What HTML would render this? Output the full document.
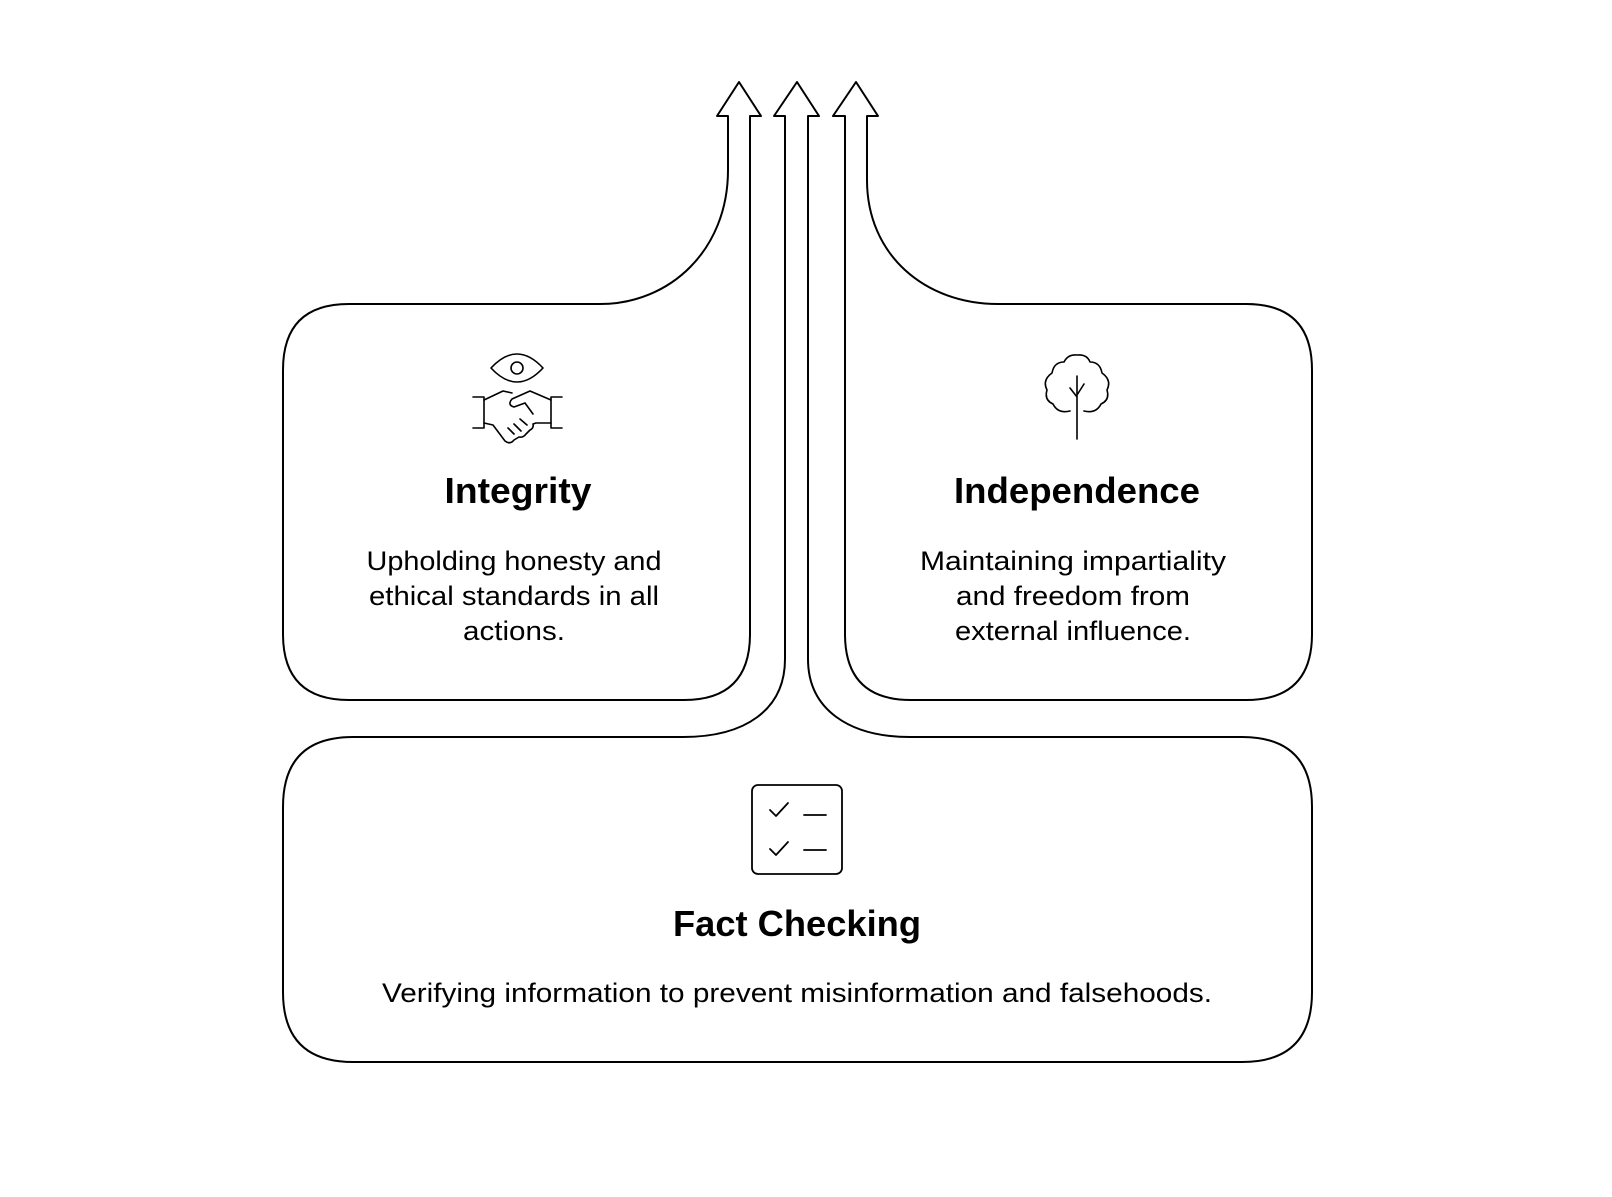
<!DOCTYPE html>
<html><head><meta charset="utf-8"><style>
html,body{margin:0;padding:0;background:#fff;}
svg{display:block;}
text{font-family:"Liberation Sans",Arial,sans-serif;fill:#000;}
.t{font-weight:bold;font-size:36px;}
.d{font-size:27px;}
</style></head><body>
<svg width="1612" height="1197" viewBox="0 0 1612 1197" xmlns="http://www.w3.org/2000/svg">
<g fill="none" stroke="#000" stroke-width="2" stroke-linejoin="round">
<path d="M728,116 L717,116 L739,82 L761,116 L750,116 L750,634 Q750,700 684,700 L349,700 Q283,700 283,634 L283,370 Q283,304 349,304 L600,304 C670,304 728,250 728,170 Z"/>
<path d="M785,116 L774,116 L797,82 L819,116 L808,116 L808,659 C808,710 850,737 910,737 L1242,737 Q1312,737 1312,807 L1312,992 Q1312,1062 1242,1062 L353,1062 Q283,1062 283,992 L283,807 Q283,737 353,737 L683,737 C745,737 785,710 785,659 Z"/>
<path d="M867,116 L878,116 L856,82 L833,116 L845,116 L845,634 Q845,700 911,700 L1246,700 Q1312,700 1312,634 L1312,370 Q1312,304 1246,304 L998,304 C925,304 867,255 867,180 Z"/>
</g>
<g fill="none" stroke="#000" stroke-width="1.6" stroke-linecap="round" stroke-linejoin="round">
<path d="M491,368 Q517,340 543,368 Q517,396 491,368 Z"/>
<circle cx="517" cy="368" r="6"/>
<path d="M473,397 L484,397 L484,428 L473,428"/>
<path d="M562,397 L551,397 L551,428 L562,428"/>
<path d="M484,400 L503,391 L512,393"/>
<path d="M551,400 L530,391 L512,399 Q507,405 514,407 L525,403 L533,414"/>
<path d="M484,423 L493,425 L505,441 Q510,445 514,440 L519,437 Q523,438 526,434 L530,430 Q534,428 533,424 L536,423 L551,423"/>
<path d="M508,428 L514,434 M514,424 L521,431 M520,419 L527,425"/>
</g>
<g fill="none" stroke="#000" stroke-width="1.6" stroke-linecap="round" stroke-linejoin="round">
<path d="M1077,439 L1077,376 M1077,397 L1070,388 M1077,395 L1084,384"/>
<path d="M1070,411 Q1058,414 1053,404 Q1044,400 1047,390 Q1042,380 1052,373 Q1054,362 1064,362 Q1068,354 1077,355 Q1087,354 1090,362 Q1100,362 1102,373 Q1112,380 1107,390 Q1110,400 1101,404 Q1096,414 1084,411"/>
</g>
<g fill="none" stroke="#000" stroke-width="1.8" stroke-linecap="round" stroke-linejoin="round">
<rect x="752" y="785" width="90" height="89" rx="6"/>
<path d="M770,810 L776,816 L788,803"/>
<path d="M770,849 L776,855 L788,842"/>
<path d="M804,815 L826,815 M804,850 L826,850"/>
</g>
<text class="t" x="518" y="503" text-anchor="middle" textLength="147" lengthAdjust="spacingAndGlyphs">Integrity</text>
<text class="d" x="514" y="570" text-anchor="middle" textLength="295" lengthAdjust="spacingAndGlyphs">Upholding honesty and</text>
<text class="d" x="514" y="605" text-anchor="middle" textLength="290" lengthAdjust="spacingAndGlyphs">ethical standards in all</text>
<text class="d" x="514" y="640" text-anchor="middle" textLength="102" lengthAdjust="spacingAndGlyphs">actions.</text>
<text class="t" x="1077" y="503" text-anchor="middle" textLength="246" lengthAdjust="spacingAndGlyphs">Independence</text>
<text class="d" x="1073" y="570" text-anchor="middle" textLength="306" lengthAdjust="spacingAndGlyphs">Maintaining impartiality</text>
<text class="d" x="1073" y="605" text-anchor="middle" textLength="234" lengthAdjust="spacingAndGlyphs">and freedom from</text>
<text class="d" x="1073" y="640" text-anchor="middle" textLength="236" lengthAdjust="spacingAndGlyphs">external influence.</text>
<text class="t" x="797" y="936" text-anchor="middle" textLength="248" lengthAdjust="spacingAndGlyphs">Fact Checking</text>
<text class="d" x="797" y="1002" text-anchor="middle" textLength="830" lengthAdjust="spacingAndGlyphs">Verifying information to prevent misinformation and falsehoods.</text>
</svg>
</body></html>
